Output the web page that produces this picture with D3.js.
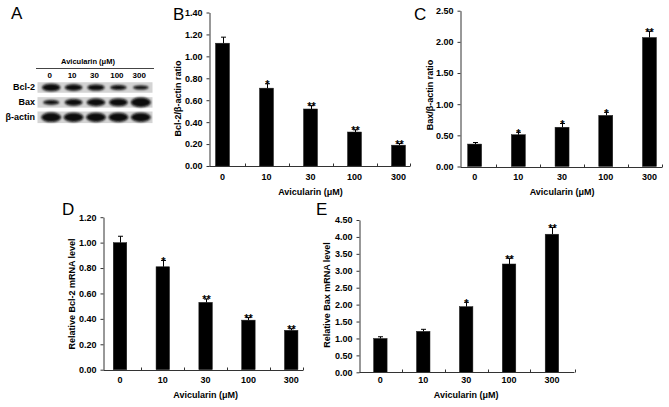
<!DOCTYPE html>
<html><head><meta charset="utf-8">
<script src="https://cdn.jsdelivr.net/npm/d3@7"></script>
<style>
body{margin:0;background:#fff}
svg{display:block}
text{font-family:"Liberation Sans",Arial,Helvetica,sans-serif;fill:#000}
</style>
</head><body>
<svg id="chart" width="669" height="407"></svg>
<script>
// ---------------- data ----------------
const doses = ["0", "10", "30", "100", "300"];
const xTitle = "Avicularin (μM)";

const bcl2Protein    = [1.12, 0.71, 0.52, 0.31, 0.19];
const bcl2ProteinErr = [0.055, 0.04, 0.03, 0.02, 0.015];
const bcl2ProteinSig = ["", "*", "**", "**", "**"];
const bcl2ProteinTicks = [0, 0.2, 0.4, 0.6, 0.8, 1.0, 1.2, 1.4];

const baxProtein    = [0.36, 0.51, 0.63, 0.82, 2.07];
const baxProteinErr = [0.025, 0.04, 0.06, 0.05, 0.10];
const baxProteinSig = ["", "*", "*", "*", "**"];
const baxProteinTicks = [0, 0.5, 1.0, 1.5, 2.0, 2.5];

const bcl2Mrna    = [1.00, 0.81, 0.53, 0.39, 0.31];
const bcl2MrnaErr = [0.05, 0.05, 0.026, 0.02, 0.012];
const bcl2MrnaSig = ["", "*", "**", "**", "**"];
const bcl2MrnaTicks = [0, 0.2, 0.4, 0.6, 0.8, 1.0, 1.2];

const baxMrna    = [1.00, 1.21, 1.94, 3.20, 4.08];
const baxMrnaErr = [0.05, 0.06, 0.13, 0.17, 0.20];
const baxMrnaSig = ["", "", "*", "**", "**"];
const baxMrnaTicks = [0, 0.5, 1.0, 1.5, 2.0, 2.5, 3.0, 3.5, 4.0, 4.5];

// western blot (relative band intensity)
const blotRows   = ["Bcl-2", "Bax", "β-actin"];
const blotBcl2   = [0.80, 0.70, 0.65, 0.54, 0.44];
const blotBax    = [0.50, 0.70, 0.80, 0.82, 1.00];
const blotActin  = [0.98, 0.97, 0.96, 0.96, 0.96];

// ---------------- drawing ----------------
const svg = d3.select("#chart");
const defs = svg.append("defs");
defs.append("filter").attr("id", "blur").attr("x", "-30%").attr("y", "-60%").attr("width", "160%").attr("height", "220%")
  .append("feGaussianBlur").attr("stdDeviation", 0.8);

function panel(cfg, values, errs, sigs, ticks, yTitle) {
  const g = svg.append("g");
  const y = d3.scaleLinear().domain([0, ticks[ticks.length - 1]]).range([cfg.yBot, cfg.yTop]);
  const x = d3.scaleBand().domain(doses)
    .range([cfg.bandStart, cfg.bandStart + cfg.step * doses.length])
    .paddingInner(1 - cfg.barW / cfg.step).paddingOuter((1 - cfg.barW / cfg.step) / 2);

  // bars
  g.selectAll("rect.bar").data(values).join("rect").attr("class", "bar")
    .attr("x", (d, i) => x(doses[i])).attr("width", x.bandwidth())
    .attr("y", d => y(d)).attr("height", d => y(0) - y(d))
    .attr("fill", "#000").attr("stroke", "#222").attr("stroke-width", 0.5);

  // error bars (upper only)
  const cx = i => Math.round(x(doses[i]) + x.bandwidth() / 2) + 0.5;
  g.selectAll("path.err").data(values).join("path").attr("class", "err")
    .attr("d", (d, i) => `M${cx(i)},${y(d)}V${y(d + errs[i])}M${cx(i) - 2.5},${y(d + errs[i])}H${cx(i) + 2.5}`)
    .attr("stroke", "#000").attr("stroke-width", 1).attr("fill", "none");

  // significance stars
  g.selectAll("text.sig").data(values).join("text").attr("class", "sig")
    .attr("x", (d, i) => cx(i)).attr("y", (d, i) => y(d + errs[i]) + 4.3)
    .attr("text-anchor", "middle").attr("font-size", 11).attr("font-weight", "bold")
    .text((d, i) => sigs[i]);

  // y axis
  const ya = d3.axisLeft(y).tickValues(ticks).tickFormat(d3.format(".2f"))
    .tickSize(3).tickSizeOuter(0).tickPadding(4);
  const yg = g.append("g").attr("transform", `translate(${cfg.axisX},0)`).call(ya);
  yg.selectAll("path,line").attr("stroke", "#333");
  yg.selectAll("text").attr("font-size", 9).attr("font-weight", "bold")
    .attr("font-family", '"Liberation Sans",Arial,sans-serif').attr("fill", "#000");

  // x axis line with upward boundary ticks
  const y0 = Math.round(y(0)) + 0.5;
  g.append("path").attr("d", `M${cfg.axisX},${y0}H${cfg.axisEnd}`).attr("stroke", "#333").attr("fill", "none");
  const bounds = doses.slice(1).map(d => x(d) - x.step() * x.paddingInner() / 2);
  bounds.push(cfg.axisEnd);
  g.selectAll("path.xt").data(bounds).join("path").attr("class", "xt")
    .attr("d", b => `M${Math.round(b) + 0.5},${y0}V${y0 - 3}`).attr("stroke", "#333");

  // x tick labels via axis
  const xa = d3.axisBottom(x).tickSize(0).tickPadding(0);
  const xg = g.append("g").attr("transform", `translate(0,${cfg.yBot})`).call(xa);
  xg.select(".domain").remove();
  xg.selectAll("text").attr("y", cfg.tickLabelY - cfg.yBot).attr("dy", 0)
    .attr("font-size", 9).attr("font-weight", "bold")
    .attr("font-family", '"Liberation Sans",Arial,sans-serif').attr("fill", "#000");

  // axis titles
  const r = x.range();
  g.append("text").attr("x", (r[0] + r[1]) / 2).attr("y", cfg.titleY)
    .attr("text-anchor", "middle").attr("font-size", 9).attr("font-weight", "bold").text(xTitle);
  g.append("text").attr("transform", `translate(${cfg.ytX},${cfg.ytY}) rotate(-90)`)
    .attr("text-anchor", "middle").attr("font-size", 9).attr("font-weight", "bold").text(yTitle);

  // panel letter
  g.append("text").attr("x", cfg.lx).attr("y", cfg.ly).attr("font-size", 17).text(cfg.letter);
}

panel({yTop: 12.5, yBot: 166, axisX: 209.5, axisEnd: 410, bandStart: 200.5, step: 44, barW: 14,
       tickLabelY: 180, titleY: 194.5, ytX: 181, ytY: 98.5, letter: "B", lx: 173, ly: 20},
      bcl2Protein, bcl2ProteinErr, bcl2ProteinSig, bcl2ProteinTicks, "Bcl-2/β-actin ratio");

panel({yTop: 10.7, yBot: 166.5, axisX: 460.5, axisEnd: 662, bandStart: 452.8, step: 43.7, barW: 14,
       tickLabelY: 180, titleY: 194.5, ytX: 433, ytY: 95, letter: "C", lx: 414, ly: 20},
      baxProtein, baxProteinErr, baxProteinSig, baxProteinTicks, "Bax/β-actin ratio");

panel({yTop: 217.2, yBot: 369.7, axisX: 103.5, axisEnd: 303, bandStart: 98.6, step: 42.8, barW: 13.5,
       tickLabelY: 383, titleY: 398, ytX: 75, ytY: 294, letter: "D", lx: 62, ly: 215},
      bcl2Mrna, bcl2MrnaErr, bcl2MrnaSig, bcl2MrnaTicks, "Relative Bcl-2 mRNA level");

panel({yTop: 220, yBot: 372.3, axisX: 359.5, axisEnd: 574.5, bandStart: 358.9, step: 42.9, barW: 13.5,
       tickLabelY: 383, titleY: 398, ytX: 330, ytY: 295, letter: "E", lx: 316, ly: 215},
      baxMrna, baxMrnaErr, baxMrnaSig, baxMrnaTicks, "Relative Bax mRNA level");

// ---------------- panel A : western blot ----------------
(function () {
  const g = svg.append("g");
  g.append("text").attr("x", 11).attr("y", 19).attr("font-size", 17).text("A");

  const lane = d3.scaleBand().domain(doses).range([40, 152]);
  const row = d3.scalePoint().domain(blotRows).range([87.5, 117.3]);
  const rx = d3.scaleLinear().domain([0.4, 1]).range([7.6, 10]);
  const ry = d3.scaleLinear().domain([0.4, 1]).range([1.9, 4.8]);
  const stripH = [10.5, 10.5, 11.6];

  g.append("text").attr("x", 88).attr("y", 64).attr("text-anchor", "middle")
    .attr("font-size", 7.5).attr("font-weight", "bold").text(xTitle);
  g.append("line").attr("x1", 36).attr("x2", 154).attr("y1", 68.5).attr("y2", 68.5)
    .attr("stroke", "#444").attr("stroke-width", 1);
  g.selectAll("text.lane").data(doses).join("text").attr("class", "lane")
    .attr("x", d => lane(d) + lane.bandwidth() / 2 - 1.5).attr("y", 78)
    .attr("text-anchor", "middle").attr("font-size", 8).attr("font-weight", "bold").text(d => d);

  const rowsData = [blotBcl2, blotBax, blotActin];
  blotRows.forEach((name, ri) => {
    const cy = row(name);
    const h = stripH[ri];
    g.append("rect").attr("x", 37.5).attr("y", cy - h / 2).attr("width", 115).attr("height", h)
      .attr("fill", "#d4d4d4");
    g.append("g").attr("filter", "url(#blur)")
      .selectAll("ellipse").data(rowsData[ri]).join("ellipse")
      .attr("cx", (d, i) => lane(doses[i]) + lane.bandwidth() / 2)
      .attr("cy", cy).attr("rx", d => rx(d)).attr("ry", d => ry(d)).attr("fill", "#080808");
    g.append("text").attr("x", 35).attr("y", cy + 2.5).attr("text-anchor", "end")
      .attr("font-size", 9).attr("font-weight", "bold").text(name);
  });
})();
</script>
</body></html>
